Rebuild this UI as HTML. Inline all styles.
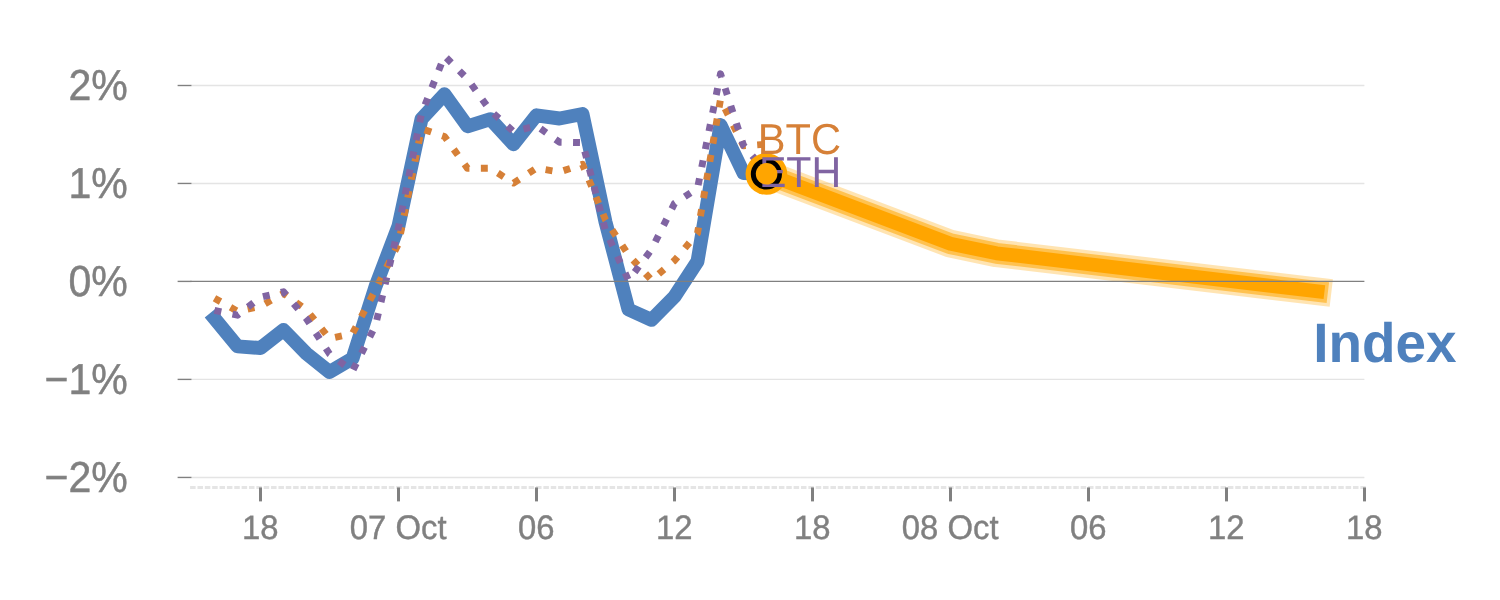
<!DOCTYPE html>
<html lang="en">
<head>
<meta charset="utf-8">
<title>Index forecast</title>
<style>
html,body{margin:0;padding:0;background:#fff;}
body{width:1500px;height:600px;overflow:hidden;}
svg{display:block;}
text{font-family:"Liberation Sans",sans-serif;text-rendering:geometricPrecision;}
</style>
</head>
<body>
<svg width="1500" height="600" viewBox="0 0 1500 600">
<rect width="1500" height="600" fill="#ffffff"/>
<g stroke="#E4E4E4" stroke-width="1.39" fill="none">
<line x1="191.50" y1="85.50" x2="1364.40" y2="85.50"/>
<line x1="191.50" y1="183.45" x2="1364.40" y2="183.45"/>
<line x1="191.50" y1="379.40" x2="1364.40" y2="379.40"/>
<line x1="191.50" y1="477.45" x2="1364.40" y2="477.45"/>
</g>
<line x1="190.11" y1="487.50" x2="1365.79" y2="487.50" stroke="#E5E5E5" stroke-width="3" stroke-dasharray="5.5 1.86"/>
<g stroke="#808080" fill="none">
<line x1="177.61" y1="85.50" x2="191.50" y2="85.50" stroke-width="1.39"/>
<line x1="177.61" y1="183.45" x2="191.50" y2="183.45" stroke-width="1.39"/>
<line x1="177.61" y1="281.40" x2="191.50" y2="281.40" stroke-width="1.39"/>
<line x1="177.61" y1="379.40" x2="191.50" y2="379.40" stroke-width="1.39"/>
<line x1="177.61" y1="477.45" x2="191.50" y2="477.45" stroke-width="1.39"/>
<line x1="260.50" y1="487.45" x2="260.50" y2="501.40" stroke-width="3"/>
<line x1="398.50" y1="487.45" x2="398.50" y2="501.40" stroke-width="3"/>
<line x1="536.50" y1="487.45" x2="536.50" y2="501.40" stroke-width="3"/>
<line x1="674.50" y1="487.45" x2="674.50" y2="501.40" stroke-width="3"/>
<line x1="812.50" y1="487.45" x2="812.50" y2="501.40" stroke-width="3"/>
<line x1="950.50" y1="487.45" x2="950.50" y2="501.40" stroke-width="3"/>
<line x1="1088.50" y1="487.45" x2="1088.50" y2="501.40" stroke-width="3"/>
<line x1="1226.50" y1="487.45" x2="1226.50" y2="501.40" stroke-width="3"/>
<line x1="1364.50" y1="487.45" x2="1364.50" y2="501.40" stroke-width="3"/>
</g>
<g fill="#808080" stroke="#808080" stroke-width="0.45" font-size="41.67" text-anchor="end">
<text transform="translate(127.70,100.00) scale(0.985,1.04)">2%</text>
<text transform="translate(127.70,197.95) scale(0.985,1.04)">1%</text>
<text transform="translate(127.70,295.90) scale(0.985,1.04)">0%</text>
<text transform="translate(127.70,393.90) scale(0.985,1.04)">−1%</text>
<text transform="translate(127.70,491.95) scale(0.985,1.04)">−2%</text>
</g>
<g fill="#808080" stroke="#808080" stroke-width="0.4" font-size="33.33" text-anchor="middle">
<text transform="translate(260.20,538.90) scale(0.985,1.02)">18</text>
<text transform="translate(398.20,538.90) scale(0.985,1.02)">07 Oct</text>
<text transform="translate(536.20,538.90) scale(0.985,1.02)">06</text>
<text transform="translate(674.20,538.90) scale(0.985,1.02)">12</text>
<text transform="translate(812.20,538.90) scale(0.985,1.02)">18</text>
<text transform="translate(950.20,538.90) scale(0.985,1.02)">08 Oct</text>
<text transform="translate(1088.20,538.90) scale(0.985,1.02)">06</text>
<text transform="translate(1226.20,538.90) scale(0.985,1.02)">12</text>
<text transform="translate(1364.20,538.90) scale(0.985,1.02)">18</text>
</g>
<polyline points="214.50,318.50 237.50,346.40 260.50,348.00 283.50,330.00 306.50,353.60 329.50,372.00 352.50,358.60 375.50,286.50 398.50,226.00 421.50,119.00 444.50,94.30 467.50,126.30 490.50,119.20 513.50,144.20 536.50,115.30 559.50,118.50 582.50,114.00 605.50,222.00 628.50,309.50 651.50,319.80 674.50,296.60 697.50,261.40 720.50,125.00 743.50,173.00 766.50,174.00" fill="none" stroke="#4F81BD" stroke-width="13.89" stroke-linejoin="round" stroke-linecap="square"/>
<polyline points="214.50,298.20 237.50,311.20 260.50,306.40 283.50,293.30 306.50,309.90 329.50,338.50 352.50,333.50 375.50,289.70 398.50,243.60 421.50,128.80 444.50,136.50 467.50,168.40 490.50,168.30 513.50,183.10 536.50,168.20 559.50,172.00 582.50,164.40 605.50,219.90 628.50,255.00 651.50,280.10 674.50,260.50 697.50,233.20 720.50,99.40 743.50,145.80 766.50,144.20" fill="none" stroke="#D68037" stroke-width="6.94" stroke-linejoin="round" stroke-dasharray="6.94 11.46"/>
<polyline points="214.50,310.40 237.50,315.20 260.50,297.20 283.50,291.80 306.50,318.80 329.50,353.90 352.50,371.10 375.50,325.50 398.50,227.30 421.50,113.70 444.50,55.90 467.50,79.00 490.50,110.80 513.50,131.50 536.50,125.80 559.50,142.20 582.50,142.60 605.50,230.60 628.50,280.40 651.50,249.50 674.50,203.40 697.50,188.30 720.50,73.80 743.50,145.40 766.50,172.70" fill="none" stroke="#8064A2" stroke-width="6.94" stroke-linejoin="round" stroke-dasharray="6.94 11.46"/>
<polyline points="766.50,174.00 950.50,243.70 996.50,253.30 1317.50,291.40" fill="none" stroke="#FFA500" stroke-opacity="0.3" stroke-width="27.78" stroke-linejoin="round" stroke-linecap="square"/>
<polyline points="766.50,174.00 950.50,243.70 996.50,253.30 1317.50,291.40" fill="none" stroke="#FFA500" stroke-opacity="0.55" stroke-width="20.83" stroke-linejoin="round" stroke-linecap="square"/>
<polyline points="766.50,174.00 950.50,243.70 996.50,253.30 1317.50,291.40" fill="none" stroke="#FFA500" stroke-opacity="1.0" stroke-width="13.89" stroke-linejoin="round" stroke-linecap="square"/>
<line x1="190.50" y1="281.4" x2="1364.40" y2="281.4" stroke="#808080" stroke-width="1.39"/>
<circle cx="766.40" cy="174.00" r="20.83" fill="#FFA500"/>
<circle cx="766.40" cy="174.00" r="15.6" fill="#000000"/>
<text transform="translate(757.8,153.6) scale(1,1.04)" font-size="41.67" fill="#D68037">BTC</text>
<text transform="translate(758.9,186.6) scale(0.988,1.04)" font-size="41.67" fill="#8064A2">ETH</text>
<text transform="translate(1313.2,362) scale(0.988,1)" font-size="55.56" font-weight="bold" fill="#4F81BD">Index</text>
<circle cx="766.60" cy="173.80" r="10.8" fill="#FFA500"/>
</svg>
</body>
</html>
